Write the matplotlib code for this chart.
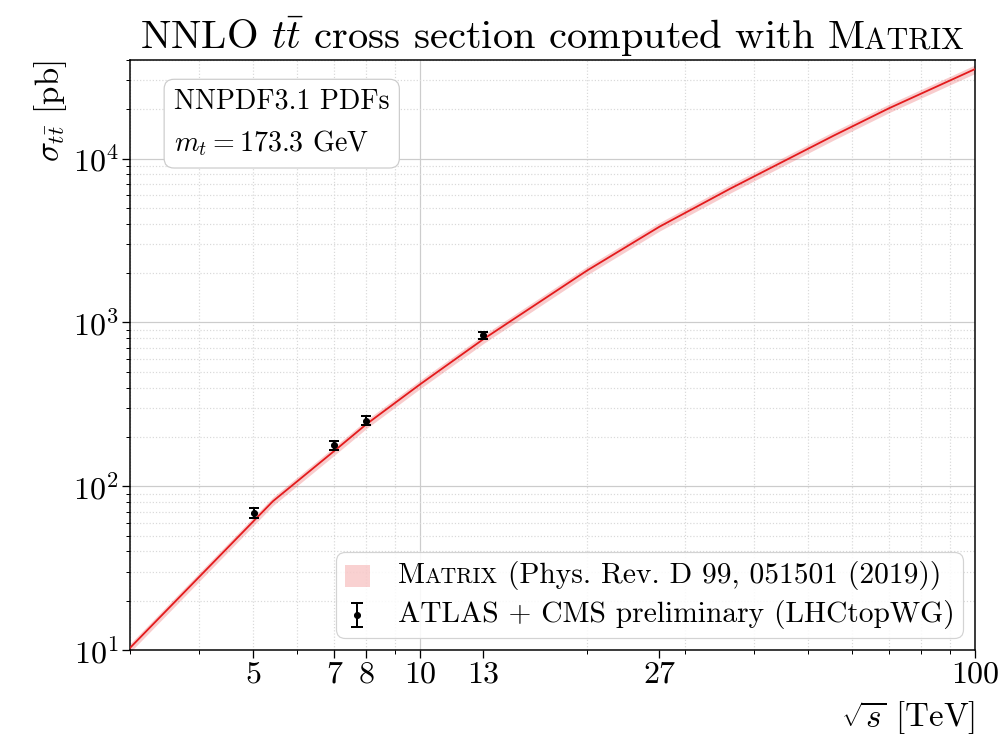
import numpy as np
import matplotlib
matplotlib.use("Agg")
import matplotlib.pyplot as plt
from matplotlib.ticker import FixedLocator, LogLocator, NullFormatter
from matplotlib.offsetbox import (AnchoredOffsetbox, HPacker, VPacker,
                                  TextArea, DrawingArea)
from matplotlib.patches import Rectangle
from matplotlib.lines import Line2D

# theory curve (MATRIX NNLO)
sqrt_s_theory = [3, 5.43, 7, 8, 10, 13, 20, 27, 36.2, 55.6, 70, 100]
sigma_theory = [10.3, 81, 164, 239, 419, 790, 2075, 3840, 6550, 13800, 20300, 35200]
band_up = 1.06
band_down = 0.94

# measurements (LHCtopWG)
sqrt_s_data = [5.02, 7, 8, 13]
sigma_data = [69, 178, 251, 832]
err_data = [5, 12, 16, 45]

xticks = [5, 7, 8, 10, 13, 27, 100]
xticklabels = ['5', '7', '8', '10', '13', '27', '100']

plt.rcParams['font.family'] = 'cmr10'
plt.rcParams['mathtext.fontset'] = 'cm'
plt.rcParams['axes.formatter.use_mathtext'] = True

fig = plt.figure(figsize=(1001/72, 738/72), dpi=72)
ax = fig.add_axes([130/1001, 88/738, 845/1001, 590/738])

x_th = np.array(sqrt_s_theory)
y_th = np.array(sigma_theory)
ax.fill_between(x_th, y_th*band_down, y_th*band_up, color='#e31a1c',
                alpha=0.22, lw=0, zorder=2)
ax.plot(x_th, y_th, color='#e31a1c', lw=1.8, zorder=3)
ax.errorbar(sqrt_s_data, sigma_data, yerr=err_data, fmt='o', color='k',
            ms=6, elinewidth=2, capsize=5, capthick=2, zorder=4)

ax.set_xscale('log')
ax.set_yscale('log')
ax.set_xlim(3, 100)
ax.set_ylim(10, 4e4)

# x ticks
ax.xaxis.set_major_locator(FixedLocator(xticks))
ax.set_xticklabels(xticklabels)
ax.xaxis.set_minor_locator(LogLocator(base=10, subs=np.arange(2, 10)))
ax.xaxis.set_minor_formatter(NullFormatter())
ax.xaxis.remove_overlapping_locs = False
ax.yaxis.set_minor_locator(LogLocator(base=10, subs=np.arange(2, 10)))
ax.yaxis.set_minor_formatter(NullFormatter())

ax.tick_params(which='major', direction='out', length=8, width=1.3, labelsize=32)
ax.tick_params(which='minor', direction='out', length=4, width=1)
for s in ax.spines.values():
    s.set_linewidth(1.5)

# grid
ax.yaxis.grid(True, which='major', color='#cccccc', lw=1.2)
ax.grid(True, which='minor', color='#d9d9d9', ls=':', lw=1.2)
ax.xaxis.grid(False, which='major')
for xv in [10, 100]:
    ax.axvline(xv, color='#cccccc', lw=1.2, zorder=0.5)
ax.set_axisbelow(True)

ax.set_xlabel(r'$\sqrt{s}$ [TeV]', fontsize=33, loc='right', labelpad=10)
ax.set_ylabel(r'$\sigma_{t\bar{t}}$ [pb]', fontsize=33, loc='top', labelpad=4)

# info box
ax.text(0.052, 0.952, 'NNPDF3.1 PDFs\n$m_t = 173.3$ GeV', transform=ax.transAxes,
        fontsize=28, va='top', ha='left', linespacing=1.6,
        bbox=dict(boxstyle='round,pad=0.35', fc='white', ec='#cccccc', lw=1.2))

# legend (built by hand because of the small caps)
fs = 29.5
sc = 22
txt = dict(size=fs, family='cmr10')
txt_sc = dict(size=sc, family='cmr10')
da1 = DrawingArea(25, 24)
da1.add_artist(Rectangle((0, 1), 25, 22, fc='#e31a1c', alpha=0.2, lw=0))
da2 = DrawingArea(25, 24)
da2.add_artist(Line2D([12.5, 12.5], [0, 24], color='k', lw=2))
da2.add_artist(Line2D([7.5, 17.5], [0, 0], color='k', lw=2))
da2.add_artist(Line2D([7.5, 17.5], [24, 24], color='k', lw=2))
da2.add_artist(Line2D([12.5], [12], marker='o', ms=6, color='k'))
lab1 = HPacker(children=[TextArea('M', textprops=txt),
                         TextArea('ATRIX', textprops=txt_sc),
                         TextArea(' (Phys. Rev. D 99, 051501 (2019))', textprops=txt)],
               align='baseline', pad=0, sep=0)
row1 = HPacker(children=[da1, lab1], align='center', pad=0, sep=28)
row2 = HPacker(children=[da2, TextArea('ATLAS + CMS preliminary (LHCtopWG)', textprops=txt)],
               align='center', pad=0, sep=28)
box = VPacker(children=[row1, row2], align='left', pad=0, sep=10)
leg = AnchoredOffsetbox(loc='lower right', child=box, pad=0.3, borderpad=0.4,
                        frameon=True, bbox_to_anchor=(1, 0),
                        bbox_transform=ax.transAxes, prop=dict(size=fs))
leg.patch.set_boxstyle('round,pad=0,rounding_size=0.3')
leg.patch.set_edgecolor('#cccccc')
leg.patch.set_facecolor('white')
leg.patch.set_alpha(0.85)
leg.patch.set_linewidth(1.2)
leg.set_zorder(5)
ax.add_artist(leg)

# title with small caps
renderer = fig.canvas.get_renderer()
t1 = fig.text(0, 0, r'NNLO $t\bar{t}$ cross section computed with M',
              fontsize=40.5, va='baseline', ha='left')
t2 = fig.text(0, 0, 'ATRIX', fontsize=30, va='baseline', ha='left')
w1 = t1.get_window_extent(renderer).width
w2 = t2.get_window_extent(renderer).width
cx = 552
base_y = (738 - 49) / 738
x0 = cx - (w1 + w2) / 2
t1.set_position((x0 / 1001, base_y))
t2.set_position(((x0 + w1) / 1001, base_y))

fig.savefig('out.png', dpi=72)
